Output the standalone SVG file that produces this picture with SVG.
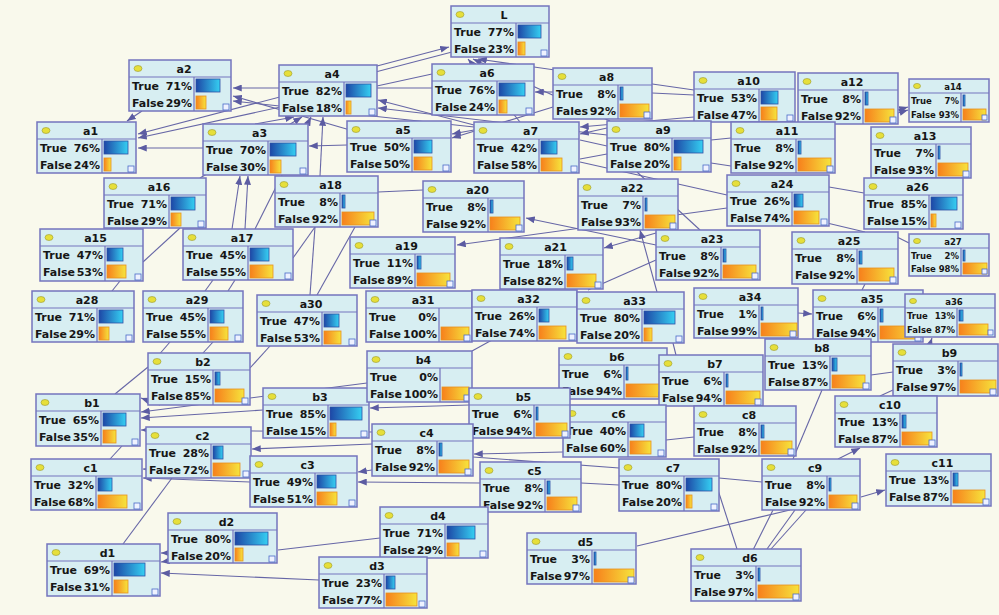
<svg xmlns="http://www.w3.org/2000/svg" width="999" height="615" viewBox="0 0 999 615">
<defs>
<linearGradient id="gb" x1="0" y1="0" x2="1" y2="0"><stop offset="0" stop-color="#1d47a6"/><stop offset="1" stop-color="#35cff2"/></linearGradient>
<linearGradient id="go" x1="0" y1="0" x2="1" y2="0"><stop offset="0" stop-color="#f7801c"/><stop offset="1" stop-color="#f6e43c"/></linearGradient>
<marker id="ar" viewBox="0 0 10 8" refX="10" refY="4" markerWidth="9" markerHeight="7" orient="auto" markerUnits="userSpaceOnUse"><path d="M0,0L10,4L0,8z" fill="#5c5ca2"/></marker>
<style>
.n{fill:#d7eef2;stroke:#7474bd;stroke-width:1.5}
.d{stroke:#7474bd;stroke-width:1.2;fill:none}
.e{fill:#e6df3a;stroke:#9a9a30;stroke-width:.6}
text{font-family:"DejaVu Sans",Verdana,sans-serif;font-weight:bold;font-size:11px;fill:#161616}
.t{text-anchor:middle}
.p{text-anchor:end}
.sm text{font-size:8.5px}
.bt{fill:url(#gb);stroke:#2f4fa6;stroke-width:.8}
.bf{fill:url(#go);stroke:#e8901e;stroke-width:.8}
.ck{fill:#eef2ff;stroke:#4a6ac8;stroke-width:.8}
#links path{stroke:#6666a6;stroke-width:1.1;fill:none}
#links .a{marker-end:url(#ar)}
</style>
</defs>
<rect width="999" height="615" fill="#f9f9ec"/>
<g id="links">
<path class="a" d="M377,66L449,47"/>
<path class="a" d="M520,122L468,59"/>
<path class="a" d="M610,121L473,59"/>
<path class="a" d="M694,90L478,59"/>
<path class="a" d="M452,52L138,134"/>
<path class="a" d="M432,74L138,138"/>
<path class="a" d="M432,88L233,88"/>
<path class="a" d="M350,130L233,96"/>
<path class="a" d="M474,127L233,101"/>
<path class="a" d="M142,111L127,121"/>
<path class="a" d="M203,148L138,148"/>
<path class="a" d="M347,145L309,146"/>
<path class="a" d="M474,130L452,134"/>
<path class="a" d="M553,107L452,138"/>
<path class="a" d="M474,125L378,100"/>
<path class="a" d="M607,135L378,108"/>
<path class="a" d="M255,124L294,117"/>
<path class="a" d="M200,178L302,117"/>
<path class="a" d="M320,176L323,117"/>
<path class="a" d="M255,229L311,117"/>
<path class="a" d="M553,92L535,92"/>
<path d="M652,93L694,95"/>
<path class="a" d="M694,117L580,127"/>
<path class="a" d="M607,128L580,134"/>
<path d="M580,140L607,146"/>
<path d="M580,159L607,154"/>
<path d="M580,162L727,195"/>
<path d="M637,172L700,230"/>
<path d="M711,140L731,138"/>
<path d="M711,163L731,166"/>
<path class="a" d="M898,110L908,107"/>
<path class="a" d="M898,113L908,110"/>
<path d="M829,187L864,193"/>
<path d="M827,223L865,232"/>
<path d="M897,237L909,243"/>
<path d="M180,228L143,262"/>
<path d="M120,281L112,291"/>
<path d="M213,280L205,291"/>
<path d="M235,280L228,291"/>
<path class="a" d="M232,229L240,176"/>
<path class="a" d="M245,229L248,176"/>
<path d="M315,227L310,295"/>
<path d="M355,227L317,295"/>
<path d="M315,227L293,258"/>
<path d="M423,190L378,192"/>
<path class="a" d="M656,245L526,218"/>
<path class="a" d="M656,233L604,248"/>
<path class="a" d="M727,208L457,245"/>
<path class="a" d="M657,292L640,230"/>
<path d="M656,260L588,290"/>
<path d="M492,340L472,351"/>
<path d="M673,343L676,355"/>
<path d="M865,284L862,290"/>
<path class="a" d="M798,313L812,314"/>
<path class="a" d="M930,344L932,338"/>
<path d="M871,375L893,372"/>
<path d="M822,390L793,459"/>
<path d="M893,390L880,396"/>
<path class="a" d="M838,459L860,448"/>
<path class="a" d="M861,497L885,490"/>
<path d="M767,549L795,510"/>
<path d="M771,549L806,510"/>
<path d="M753,550L773,510"/>
<path d="M637,546L790,510"/>
<path d="M718,490L737,549"/>
<path d="M719,478L762,482"/>
<path d="M581,483L619,485"/>
<path d="M473,457L619,468"/>
<path d="M666,440L694,437"/>
<path class="a" d="M563,452L474,454"/>
<path class="a" d="M372,470L358,472"/>
<path class="a" d="M480,483L358,482"/>
<path class="a" d="M372,444L252,449"/>
<path class="a" d="M250,482L143,478"/>
<path class="a" d="M160,470L143,469"/>
<path d="M122,446L110,459"/>
<path d="M172,478L123,544"/>
<path class="a" d="M168,553L161,553"/>
<path class="a" d="M168,561L161,562"/>
<path class="a" d="M319,580L161,573"/>
<path d="M380,538L278,550"/>
<path d="M148,367L115,394"/>
<path class="a" d="M160,405L141,398"/>
<path class="a" d="M263,410L141,418"/>
<path class="a" d="M367,383L141,412"/>
<path class="a" d="M372,432L141,430"/>
<path class="a" d="M469,405L370,408"/>
<path d="M270,346L250,368"/>
<path d="M170,342L150,365"/>
<path d="M213,342L203,353"/>
</g>

<g id="L" transform="translate(451,6)"><rect class="n" width="98" height="51"/><path class="d" d="M0,17H98M65,17V51"/><ellipse class="e" cx="9" cy="8.5" rx="4" ry="3"/><text class="t" x="53" y="13">L</text><text x="3" y="30">True</text><text class="p" x="63" y="30">77%</text><text x="3" y="47">False</text><text class="p" x="63" y="47">23%</text><rect class="bt" x="67" y="19" width="23" height="13"/><rect class="bf" x="67" y="36" width="7" height="13"/><rect class="ck" x="90" y="44" width="6" height="6"/></g>
<g id="a2" transform="translate(129,60)"><rect class="n" width="102" height="51"/><path class="d" d="M0,17H102M65,17V51"/><ellipse class="e" cx="9" cy="8.5" rx="4" ry="3"/><text class="t" x="55" y="13">a2</text><text x="3" y="30">True</text><text class="p" x="63" y="30">71%</text><text x="3" y="47">False</text><text class="p" x="63" y="47">29%</text><rect class="bt" x="67" y="19" width="24" height="13"/><rect class="bf" x="67" y="36" width="10" height="13"/><rect class="ck" x="94" y="44" width="6" height="6"/></g>
<g id="a4" transform="translate(279,65)"><rect class="n" width="98" height="51"/><path class="d" d="M0,17H98M65,17V51"/><ellipse class="e" cx="9" cy="8.5" rx="4" ry="3"/><text class="t" x="53" y="13">a4</text><text x="3" y="30">True</text><text class="p" x="63" y="30">82%</text><text x="3" y="47">False</text><text class="p" x="63" y="47">18%</text><rect class="bt" x="67" y="19" width="25" height="13"/><rect class="bf" x="67" y="36" width="5" height="13"/><rect class="ck" x="90" y="44" width="6" height="6"/></g>
<g id="a6" transform="translate(432,64)"><rect class="n" width="102" height="51"/><path class="d" d="M0,17H102M65,17V51"/><ellipse class="e" cx="9" cy="8.5" rx="4" ry="3"/><text class="t" x="55" y="13">a6</text><text x="3" y="30">True</text><text class="p" x="63" y="30">76%</text><text x="3" y="47">False</text><text class="p" x="63" y="47">24%</text><rect class="bt" x="67" y="19" width="26" height="13"/><rect class="bf" x="67" y="36" width="8" height="13"/><rect class="ck" x="94" y="44" width="6" height="6"/></g>
<g id="a8" transform="translate(553,68)"><rect class="n" width="99" height="51"/><path class="d" d="M0,17H99M65,17V51"/><ellipse class="e" cx="9" cy="8.5" rx="4" ry="3"/><text class="t" x="53.5" y="13">a8</text><text x="3" y="30">True</text><text class="p" x="63" y="30">8%</text><text x="3" y="47">Fales</text><text class="p" x="63" y="47">92%</text><rect class="bt" x="67" y="19" width="3" height="13"/><rect class="bf" x="67" y="36" width="29" height="13"/><rect class="ck" x="91" y="44" width="6" height="6"/></g>
<g id="a10" transform="translate(694,72)"><rect class="n" width="101" height="50"/><path class="d" d="M0,17H101M65,17V50"/><ellipse class="e" cx="9" cy="8.5" rx="4" ry="3"/><text class="t" x="54.5" y="13">a10</text><text x="3" y="30">True</text><text class="p" x="63" y="30">53%</text><text x="3" y="47">False</text><text class="p" x="63" y="47">47%</text><rect class="bt" x="67" y="19" width="17" height="13"/><rect class="bf" x="67" y="35" width="16" height="13"/><rect class="ck" x="93" y="43" width="6" height="6"/></g>
<g id="a12" transform="translate(798,73)"><rect class="n" width="100" height="51"/><path class="d" d="M0,17H100M65,17V51"/><ellipse class="e" cx="9" cy="8.5" rx="4" ry="3"/><text class="t" x="54" y="13">a12</text><text x="3" y="30">True</text><text class="p" x="63" y="30">8%</text><text x="3" y="47">False</text><text class="p" x="63" y="47">92%</text><rect class="bt" x="67" y="19" width="3" height="13"/><rect class="bf" x="67" y="36" width="29" height="13"/><rect class="ck" x="92" y="44" width="6" height="6"/></g>
<g id="a14" class="sm" transform="translate(909,79)"><rect class="n" width="80" height="43"/><path class="d" d="M0,14H80M52,14V43"/><ellipse class="e" cx="8" cy="7" rx="3.5" ry="2.6"/><text class="t" x="44" y="11">a14</text><text x="2" y="25">True</text><text class="p" x="50" y="25">7%</text><text x="2" y="39">False</text><text class="p" x="50" y="39">93%</text><rect class="bt" x="54" y="16" width="2" height="11"/><rect class="bf" x="54" y="30" width="23" height="11"/><rect class="ck" x="73" y="36" width="5" height="5"/></g>
<g id="a1" transform="translate(37,122)"><rect class="n" width="99" height="51"/><path class="d" d="M0,17H99M65,17V51"/><ellipse class="e" cx="9" cy="8.5" rx="4" ry="3"/><text class="t" x="53.5" y="13">a1</text><text x="3" y="30">True</text><text class="p" x="63" y="30">76%</text><text x="3" y="47">False</text><text class="p" x="63" y="47">24%</text><rect class="bt" x="67" y="19" width="24" height="13"/><rect class="bf" x="67" y="36" width="7" height="13"/><rect class="ck" x="91" y="44" width="6" height="6"/></g>
<g id="a3" transform="translate(203,124)"><rect class="n" width="105" height="51"/><path class="d" d="M0,17H105M65,17V51"/><ellipse class="e" cx="9" cy="8.5" rx="4" ry="3"/><text class="t" x="56.5" y="13">a3</text><text x="3" y="30">True</text><text class="p" x="63" y="30">70%</text><text x="3" y="47">False</text><text class="p" x="63" y="47">30%</text><rect class="bt" x="67" y="19" width="26" height="13"/><rect class="bf" x="67" y="36" width="11" height="13"/><rect class="ck" x="97" y="44" width="6" height="6"/></g>
<g id="a5" transform="translate(347,121)"><rect class="n" width="104" height="51"/><path class="d" d="M0,17H104M65,17V51"/><ellipse class="e" cx="9" cy="8.5" rx="4" ry="3"/><text class="t" x="56" y="13">a5</text><text x="3" y="30">True</text><text class="p" x="63" y="30">50%</text><text x="3" y="47">False</text><text class="p" x="63" y="47">50%</text><rect class="bt" x="67" y="19" width="18" height="13"/><rect class="bf" x="67" y="36" width="18" height="13"/><rect class="ck" x="96" y="44" width="6" height="6"/></g>
<g id="a7" transform="translate(474,122)"><rect class="n" width="105" height="51"/><path class="d" d="M0,17H105M65,17V51"/><ellipse class="e" cx="9" cy="8.5" rx="4" ry="3"/><text class="t" x="56.5" y="13">a7</text><text x="3" y="30">True</text><text class="p" x="63" y="30">42%</text><text x="3" y="47">False</text><text class="p" x="63" y="47">58%</text><rect class="bt" x="67" y="19" width="16" height="13"/><rect class="bf" x="67" y="36" width="21" height="13"/><rect class="ck" x="97" y="44" width="6" height="6"/></g>
<g id="a9" transform="translate(607,121)"><rect class="n" width="104" height="51"/><path class="d" d="M0,17H104M65,17V51"/><ellipse class="e" cx="9" cy="8.5" rx="4" ry="3"/><text class="t" x="56" y="13">a9</text><text x="3" y="30">True</text><text class="p" x="63" y="30">80%</text><text x="3" y="47">False</text><text class="p" x="63" y="47">20%</text><rect class="bt" x="67" y="19" width="29" height="13"/><rect class="bf" x="67" y="36" width="7" height="13"/><rect class="ck" x="96" y="44" width="6" height="6"/></g>
<g id="a11" transform="translate(731,122)"><rect class="n" width="104" height="51"/><path class="d" d="M0,17H104M65,17V51"/><ellipse class="e" cx="9" cy="8.5" rx="4" ry="3"/><text class="t" x="56" y="13">a11</text><text x="3" y="30">True</text><text class="p" x="63" y="30">8%</text><text x="3" y="47">False</text><text class="p" x="63" y="47">92%</text><rect class="bt" x="67" y="19" width="3" height="13"/><rect class="bf" x="67" y="36" width="33" height="13"/><rect class="ck" x="96" y="44" width="6" height="6"/></g>
<g id="a13" transform="translate(871,127)"><rect class="n" width="100" height="51"/><path class="d" d="M0,17H100M65,17V51"/><ellipse class="e" cx="9" cy="8.5" rx="4" ry="3"/><text class="t" x="54" y="13">a13</text><text x="3" y="30">True</text><text class="p" x="63" y="30">7%</text><text x="3" y="47">False</text><text class="p" x="63" y="47">93%</text><rect class="bt" x="67" y="19" width="2" height="13"/><rect class="bf" x="67" y="36" width="30" height="13"/><rect class="ck" x="92" y="44" width="6" height="6"/></g>
<g id="a16" transform="translate(104,178)"><rect class="n" width="102" height="50"/><path class="d" d="M0,17H102M65,17V50"/><ellipse class="e" cx="9" cy="8.5" rx="4" ry="3"/><text class="t" x="55" y="13">a16</text><text x="3" y="30">True</text><text class="p" x="63" y="30">71%</text><text x="3" y="47">False</text><text class="p" x="63" y="47">29%</text><rect class="bt" x="67" y="19" width="24" height="13"/><rect class="bf" x="67" y="35" width="10" height="13"/><rect class="ck" x="94" y="43" width="6" height="6"/></g>
<g id="a18" transform="translate(275,176)"><rect class="n" width="103" height="51"/><path class="d" d="M0,17H103M65,17V51"/><ellipse class="e" cx="9" cy="8.5" rx="4" ry="3"/><text class="t" x="55.5" y="13">a18</text><text x="3" y="30">True</text><text class="p" x="63" y="30">8%</text><text x="3" y="47">False</text><text class="p" x="63" y="47">92%</text><rect class="bt" x="67" y="19" width="3" height="13"/><rect class="bf" x="67" y="36" width="32" height="13"/><rect class="ck" x="95" y="44" width="6" height="6"/></g>
<g id="a20" transform="translate(423,181)"><rect class="n" width="101" height="51"/><path class="d" d="M0,17H101M65,17V51"/><ellipse class="e" cx="9" cy="8.5" rx="4" ry="3"/><text class="t" x="54.5" y="13">a20</text><text x="3" y="30">True</text><text class="p" x="63" y="30">8%</text><text x="3" y="47">False</text><text class="p" x="63" y="47">92%</text><rect class="bt" x="67" y="19" width="3" height="13"/><rect class="bf" x="67" y="36" width="30" height="13"/><rect class="ck" x="93" y="44" width="6" height="6"/></g>
<g id="a22" transform="translate(578,179)"><rect class="n" width="100" height="51"/><path class="d" d="M0,17H100M65,17V51"/><ellipse class="e" cx="9" cy="8.5" rx="4" ry="3"/><text class="t" x="54" y="13">a22</text><text x="3" y="30">True</text><text class="p" x="63" y="30">7%</text><text x="3" y="47">False</text><text class="p" x="63" y="47">93%</text><rect class="bt" x="67" y="19" width="2" height="13"/><rect class="bf" x="67" y="36" width="30" height="13"/><rect class="ck" x="92" y="44" width="6" height="6"/></g>
<g id="a24" transform="translate(727,175)"><rect class="n" width="102" height="51"/><path class="d" d="M0,17H102M65,17V51"/><ellipse class="e" cx="9" cy="8.5" rx="4" ry="3"/><text class="t" x="55" y="13">a24</text><text x="3" y="30">True</text><text class="p" x="63" y="30">26%</text><text x="3" y="47">False</text><text class="p" x="63" y="47">74%</text><rect class="bt" x="67" y="19" width="9" height="13"/><rect class="bf" x="67" y="36" width="25" height="13"/><rect class="ck" x="94" y="44" width="6" height="6"/></g>
<g id="a26" transform="translate(864,178)"><rect class="n" width="99" height="51"/><path class="d" d="M0,17H99M65,17V51"/><ellipse class="e" cx="9" cy="8.5" rx="4" ry="3"/><text class="t" x="53.5" y="13">a26</text><text x="3" y="30">True</text><text class="p" x="63" y="30">85%</text><text x="3" y="47">False</text><text class="p" x="63" y="47">15%</text><rect class="bt" x="67" y="19" width="26" height="13"/><rect class="bf" x="67" y="36" width="5" height="13"/><rect class="ck" x="91" y="44" width="6" height="6"/></g>
<g id="a15" transform="translate(40,229)"><rect class="n" width="103" height="52"/><path class="d" d="M0,17H103M65,17V52"/><ellipse class="e" cx="9" cy="8.5" rx="4" ry="3"/><text class="t" x="55.5" y="13">a15</text><text x="3" y="30">True</text><text class="p" x="63" y="30">47%</text><text x="3" y="47">False</text><text class="p" x="63" y="47">53%</text><rect class="bt" x="67" y="19" width="16" height="13"/><rect class="bf" x="67" y="36" width="19" height="13"/><rect class="ck" x="95" y="45" width="6" height="6"/></g>
<g id="a17" transform="translate(183,229)"><rect class="n" width="110" height="51"/><path class="d" d="M0,17H110M65,17V51"/><ellipse class="e" cx="9" cy="8.5" rx="4" ry="3"/><text class="t" x="59" y="13">a17</text><text x="3" y="30">True</text><text class="p" x="63" y="30">45%</text><text x="3" y="47">False</text><text class="p" x="63" y="47">55%</text><rect class="bt" x="67" y="19" width="19" height="13"/><rect class="bf" x="67" y="36" width="23" height="13"/><rect class="ck" x="102" y="44" width="6" height="6"/></g>
<g id="a19" transform="translate(350,237)"><rect class="n" width="105" height="51"/><path class="d" d="M0,17H105M65,17V51"/><ellipse class="e" cx="9" cy="8.5" rx="4" ry="3"/><text class="t" x="56.5" y="13">a19</text><text x="3" y="30">True</text><text class="p" x="63" y="30">11%</text><text x="3" y="47">False</text><text class="p" x="63" y="47">89%</text><rect class="bt" x="67" y="19" width="4" height="13"/><rect class="bf" x="67" y="36" width="33" height="13"/><rect class="ck" x="97" y="44" width="6" height="6"/></g>
<g id="a21" transform="translate(500,238)"><rect class="n" width="103" height="51"/><path class="d" d="M0,17H103M65,17V51"/><ellipse class="e" cx="9" cy="8.5" rx="4" ry="3"/><text class="t" x="55.5" y="13">a21</text><text x="3" y="30">True</text><text class="p" x="63" y="30">18%</text><text x="3" y="47">False</text><text class="p" x="63" y="47">82%</text><rect class="bt" x="67" y="19" width="6" height="13"/><rect class="bf" x="67" y="36" width="29" height="13"/><rect class="ck" x="95" y="44" width="6" height="6"/></g>
<g id="a23" transform="translate(656,230)"><rect class="n" width="104" height="50"/><path class="d" d="M0,17H104M65,17V50"/><ellipse class="e" cx="9" cy="8.5" rx="4" ry="3"/><text class="t" x="56" y="13">a23</text><text x="3" y="30">True</text><text class="p" x="63" y="30">8%</text><text x="3" y="47">False</text><text class="p" x="63" y="47">92%</text><rect class="bt" x="67" y="19" width="3" height="13"/><rect class="bf" x="67" y="35" width="33" height="13"/><rect class="ck" x="96" y="43" width="6" height="6"/></g>
<g id="a25" transform="translate(792,232)"><rect class="n" width="106" height="52"/><path class="d" d="M0,17H106M65,17V52"/><ellipse class="e" cx="9" cy="8.5" rx="4" ry="3"/><text class="t" x="57" y="13">a25</text><text x="3" y="30">True</text><text class="p" x="63" y="30">8%</text><text x="3" y="47">False</text><text class="p" x="63" y="47">92%</text><rect class="bt" x="67" y="19" width="3" height="13"/><rect class="bf" x="67" y="36" width="35" height="13"/><rect class="ck" x="98" y="45" width="6" height="6"/></g>
<g id="a27" class="sm" transform="translate(909,234)"><rect class="n" width="80" height="42"/><path class="d" d="M0,14H80M52,14V42"/><ellipse class="e" cx="8" cy="7" rx="3.5" ry="2.6"/><text class="t" x="44" y="11">a27</text><text x="2" y="25">True</text><text class="p" x="50" y="25">2%</text><text x="2" y="38">False</text><text class="p" x="50" y="38">98%</text><rect class="bt" x="54" y="16" width="2" height="11"/><rect class="bf" x="54" y="29" width="24" height="11"/><rect class="ck" x="73" y="35" width="5" height="5"/></g>
<g id="a28" transform="translate(32,291)"><rect class="n" width="102" height="51"/><path class="d" d="M0,17H102M65,17V51"/><ellipse class="e" cx="9" cy="8.5" rx="4" ry="3"/><text class="t" x="55" y="13">a28</text><text x="3" y="30">True</text><text class="p" x="63" y="30">71%</text><text x="3" y="47">False</text><text class="p" x="63" y="47">29%</text><rect class="bt" x="67" y="19" width="24" height="13"/><rect class="bf" x="67" y="36" width="10" height="13"/><rect class="ck" x="94" y="44" width="6" height="6"/></g>
<g id="a29" transform="translate(143,291)"><rect class="n" width="100" height="51"/><path class="d" d="M0,17H100M65,17V51"/><ellipse class="e" cx="9" cy="8.5" rx="4" ry="3"/><text class="t" x="54" y="13">a29</text><text x="3" y="30">True</text><text class="p" x="63" y="30">45%</text><text x="3" y="47">False</text><text class="p" x="63" y="47">55%</text><rect class="bt" x="67" y="19" width="14" height="13"/><rect class="bf" x="67" y="36" width="18" height="13"/><rect class="ck" x="92" y="44" width="6" height="6"/></g>
<g id="a30" transform="translate(257,295)"><rect class="n" width="100" height="51"/><path class="d" d="M0,17H100M65,17V51"/><ellipse class="e" cx="9" cy="8.5" rx="4" ry="3"/><text class="t" x="54" y="13">a30</text><text x="3" y="30">True</text><text class="p" x="63" y="30">47%</text><text x="3" y="47">False</text><text class="p" x="63" y="47">53%</text><rect class="bt" x="67" y="19" width="15" height="13"/><rect class="bf" x="67" y="36" width="17" height="13"/><rect class="ck" x="92" y="44" width="6" height="6"/></g>
<g id="a31" transform="translate(366,291)"><rect class="n" width="106" height="51"/><path class="d" d="M0,17H106M73,17V51"/><ellipse class="e" cx="9" cy="8.5" rx="4" ry="3"/><text class="t" x="57" y="13">a31</text><text x="3" y="30">True</text><text class="p" x="71" y="30">0%</text><text x="3" y="47">False</text><text class="p" x="71" y="47">100%</text><rect class="bf" x="75" y="36" width="28" height="13"/><rect class="ck" x="98" y="44" width="6" height="6"/></g>
<g id="a32" transform="translate(472,290)"><rect class="n" width="105" height="51"/><path class="d" d="M0,17H105M65,17V51"/><ellipse class="e" cx="9" cy="8.5" rx="4" ry="3"/><text class="t" x="56.5" y="13">a32</text><text x="3" y="30">True</text><text class="p" x="63" y="30">26%</text><text x="3" y="47">False</text><text class="p" x="63" y="47">74%</text><rect class="bt" x="67" y="19" width="10" height="13"/><rect class="bf" x="67" y="36" width="27" height="13"/><rect class="ck" x="97" y="44" width="6" height="6"/></g>
<g id="a33" transform="translate(577,292)"><rect class="n" width="107" height="51"/><path class="d" d="M0,17H107M65,17V51"/><ellipse class="e" cx="9" cy="8.5" rx="4" ry="3"/><text class="t" x="57.5" y="13">a33</text><text x="3" y="30">True</text><text class="p" x="63" y="30">80%</text><text x="3" y="47">False</text><text class="p" x="63" y="47">20%</text><rect class="bt" x="67" y="19" width="31" height="13"/><rect class="bf" x="67" y="36" width="8" height="13"/><rect class="ck" x="99" y="44" width="6" height="6"/></g>
<g id="a34" transform="translate(694,288)"><rect class="n" width="104" height="50"/><path class="d" d="M0,17H104M65,17V50"/><ellipse class="e" cx="9" cy="8.5" rx="4" ry="3"/><text class="t" x="56" y="13">a34</text><text x="3" y="30">True</text><text class="p" x="63" y="30">1%</text><text x="3" y="47">False</text><text class="p" x="63" y="47">99%</text><rect class="bt" x="67" y="19" width="2" height="13"/><rect class="bf" x="67" y="35" width="36" height="13"/><rect class="ck" x="96" y="43" width="6" height="6"/></g>
<g id="a35" transform="translate(813,290)"><rect class="n" width="110" height="52"/><path class="d" d="M0,17H110M65,17V52"/><ellipse class="e" cx="9" cy="8.5" rx="4" ry="3"/><text class="t" x="59" y="13">a35</text><text x="3" y="30">True</text><text class="p" x="63" y="30">6%</text><text x="3" y="47">False</text><text class="p" x="63" y="47">94%</text><rect class="bt" x="67" y="19" width="3" height="13"/><rect class="bf" x="67" y="36" width="39" height="13"/><rect class="ck" x="102" y="45" width="6" height="6"/></g>
<g id="a36" class="sm" transform="translate(905,294)"><rect class="n" width="90" height="43"/><path class="d" d="M0,14H90M52,14V43"/><ellipse class="e" cx="8" cy="7" rx="3.5" ry="2.6"/><text class="t" x="49" y="11">a36</text><text x="2" y="25">True</text><text class="p" x="50" y="25">13%</text><text x="2" y="39">False</text><text class="p" x="50" y="39">87%</text><rect class="bt" x="54" y="16" width="4" height="11"/><rect class="bf" x="54" y="30" width="29" height="11"/><rect class="ck" x="83" y="36" width="5" height="5"/></g>
<g id="b1" transform="translate(36,394)"><rect class="n" width="104" height="52"/><path class="d" d="M0,17H104M65,17V52"/><ellipse class="e" cx="9" cy="8.5" rx="4" ry="3"/><text class="t" x="56" y="13">b1</text><text x="3" y="30">True</text><text class="p" x="63" y="30">65%</text><text x="3" y="47">False</text><text class="p" x="63" y="47">35%</text><rect class="bt" x="67" y="19" width="23" height="13"/><rect class="bf" x="67" y="36" width="13" height="13"/><rect class="ck" x="96" y="45" width="6" height="6"/></g>
<g id="b2" transform="translate(148,353)"><rect class="n" width="102" height="52"/><path class="d" d="M0,17H102M65,17V52"/><ellipse class="e" cx="9" cy="8.5" rx="4" ry="3"/><text class="t" x="55" y="13">b2</text><text x="3" y="30">True</text><text class="p" x="63" y="30">15%</text><text x="3" y="47">False</text><text class="p" x="63" y="47">85%</text><rect class="bt" x="67" y="19" width="5" height="13"/><rect class="bf" x="67" y="36" width="29" height="13"/><rect class="ck" x="94" y="45" width="6" height="6"/></g>
<g id="b3" transform="translate(263,388)"><rect class="n" width="106" height="50"/><path class="d" d="M0,17H106M65,17V50"/><ellipse class="e" cx="9" cy="8.5" rx="4" ry="3"/><text class="t" x="57" y="13">b3</text><text x="3" y="30">True</text><text class="p" x="63" y="30">85%</text><text x="3" y="47">False</text><text class="p" x="63" y="47">15%</text><rect class="bt" x="67" y="19" width="32" height="13"/><rect class="bf" x="67" y="35" width="6" height="13"/><rect class="ck" x="98" y="43" width="6" height="6"/></g>
<g id="b4" transform="translate(367,351)"><rect class="n" width="105" height="51"/><path class="d" d="M0,17H105M73,17V51"/><ellipse class="e" cx="9" cy="8.5" rx="4" ry="3"/><text class="t" x="56.5" y="13">b4</text><text x="3" y="30">True</text><text class="p" x="71" y="30">0%</text><text x="3" y="47">False</text><text class="p" x="71" y="47">100%</text><rect class="bf" x="75" y="36" width="27" height="13"/><rect class="ck" x="97" y="44" width="6" height="6"/></g>
<g id="b6" transform="translate(559,348)"><rect class="n" width="108" height="51"/><path class="d" d="M0,17H108M65,17V51"/><ellipse class="e" cx="9" cy="8.5" rx="4" ry="3"/><text class="t" x="58" y="13">b6</text><text x="3" y="30">True</text><text class="p" x="63" y="30">6%</text><text x="3" y="47">False</text><text class="p" x="63" y="47">94%</text><rect class="bt" x="67" y="19" width="2" height="13"/><rect class="bf" x="67" y="36" width="38" height="13"/><rect class="ck" x="100" y="44" width="6" height="6"/></g>
<g id="b7" transform="translate(659,355)"><rect class="n" width="104" height="51"/><path class="d" d="M0,17H104M65,17V51"/><ellipse class="e" cx="9" cy="8.5" rx="4" ry="3"/><text class="t" x="56" y="13">b7</text><text x="3" y="30">True</text><text class="p" x="63" y="30">6%</text><text x="3" y="47">False</text><text class="p" x="63" y="47">94%</text><rect class="bt" x="67" y="19" width="2" height="13"/><rect class="bf" x="67" y="36" width="34" height="13"/><rect class="ck" x="96" y="44" width="6" height="6"/></g>
<g id="b8" transform="translate(765,339)"><rect class="n" width="106" height="51"/><path class="d" d="M0,17H106M65,17V51"/><ellipse class="e" cx="9" cy="8.5" rx="4" ry="3"/><text class="t" x="57" y="13">b8</text><text x="3" y="30">True</text><text class="p" x="63" y="30">13%</text><text x="3" y="47">False</text><text class="p" x="63" y="47">87%</text><rect class="bt" x="67" y="19" width="5" height="13"/><rect class="bf" x="67" y="36" width="33" height="13"/><rect class="ck" x="98" y="44" width="6" height="6"/></g>
<g id="b9" transform="translate(893,344)"><rect class="n" width="105" height="52"/><path class="d" d="M0,17H105M65,17V52"/><ellipse class="e" cx="9" cy="8.5" rx="4" ry="3"/><text class="t" x="56.5" y="13">b9</text><text x="3" y="30">True</text><text class="p" x="63" y="30">3%</text><text x="3" y="47">False</text><text class="p" x="63" y="47">97%</text><rect class="bt" x="67" y="19" width="2" height="13"/><rect class="bf" x="67" y="36" width="36" height="13"/><rect class="ck" x="97" y="45" width="6" height="6"/></g>
<g id="c6" transform="translate(563,405)"><rect class="n" width="103" height="52"/><path class="d" d="M0,17H103M65,17V52"/><ellipse class="e" cx="9" cy="8.5" rx="4" ry="3"/><text class="t" x="55.5" y="13">c6</text><text x="3" y="30">True</text><text class="p" x="63" y="30">40%</text><text x="3" y="47">False</text><text class="p" x="63" y="47">60%</text><rect class="bt" x="67" y="19" width="14" height="13"/><rect class="bf" x="67" y="36" width="21" height="13"/><rect class="ck" x="95" y="45" width="6" height="6"/></g>
<g id="b5" transform="translate(469,388)"><rect class="n" width="101" height="50"/><path class="d" d="M0,17H101M65,17V50"/><ellipse class="e" cx="9" cy="8.5" rx="4" ry="3"/><text class="t" x="54.5" y="13">b5</text><text x="3" y="30">True</text><text class="p" x="63" y="30">6%</text><text x="3" y="47">False</text><text class="p" x="63" y="47">94%</text><rect class="bt" x="67" y="19" width="2" height="13"/><rect class="bf" x="67" y="35" width="31" height="13"/><rect class="ck" x="93" y="43" width="6" height="6"/></g>
<g id="c1" transform="translate(31,459)"><rect class="n" width="111" height="51"/><path class="d" d="M0,17H111M65,17V51"/><ellipse class="e" cx="9" cy="8.5" rx="4" ry="3"/><text class="t" x="59.5" y="13">c1</text><text x="3" y="30">True</text><text class="p" x="63" y="30">32%</text><text x="3" y="47">False</text><text class="p" x="63" y="47">68%</text><rect class="bt" x="67" y="19" width="14" height="13"/><rect class="bf" x="67" y="36" width="29" height="13"/><rect class="ck" x="103" y="44" width="6" height="6"/></g>
<g id="c2" transform="translate(146,427)"><rect class="n" width="105" height="51"/><path class="d" d="M0,17H105M65,17V51"/><ellipse class="e" cx="9" cy="8.5" rx="4" ry="3"/><text class="t" x="56.5" y="13">c2</text><text x="3" y="30">True</text><text class="p" x="63" y="30">28%</text><text x="3" y="47">False</text><text class="p" x="63" y="47">72%</text><rect class="bt" x="67" y="19" width="10" height="13"/><rect class="bf" x="67" y="36" width="27" height="13"/><rect class="ck" x="97" y="44" width="6" height="6"/></g>
<g id="c3" transform="translate(250,456)"><rect class="n" width="107" height="51"/><path class="d" d="M0,17H107M65,17V51"/><ellipse class="e" cx="9" cy="8.5" rx="4" ry="3"/><text class="t" x="57.5" y="13">c3</text><text x="3" y="30">True</text><text class="p" x="63" y="30">49%</text><text x="3" y="47">False</text><text class="p" x="63" y="47">51%</text><rect class="bt" x="67" y="19" width="19" height="13"/><rect class="bf" x="67" y="36" width="20" height="13"/><rect class="ck" x="99" y="44" width="6" height="6"/></g>
<g id="c4" transform="translate(372,424)"><rect class="n" width="101" height="52"/><path class="d" d="M0,17H101M65,17V52"/><ellipse class="e" cx="9" cy="8.5" rx="4" ry="3"/><text class="t" x="54.5" y="13">c4</text><text x="3" y="30">True</text><text class="p" x="63" y="30">8%</text><text x="3" y="47">False</text><text class="p" x="63" y="47">92%</text><rect class="bt" x="67" y="19" width="3" height="13"/><rect class="bf" x="67" y="36" width="30" height="13"/><rect class="ck" x="93" y="45" width="6" height="6"/></g>
<g id="c5" transform="translate(480,462)"><rect class="n" width="101" height="50"/><path class="d" d="M0,17H101M65,17V50"/><ellipse class="e" cx="9" cy="8.5" rx="4" ry="3"/><text class="t" x="54.5" y="13">c5</text><text x="3" y="30">True</text><text class="p" x="63" y="30">8%</text><text x="3" y="47">False</text><text class="p" x="63" y="47">92%</text><rect class="bt" x="67" y="19" width="3" height="13"/><rect class="bf" x="67" y="35" width="30" height="13"/><rect class="ck" x="93" y="43" width="6" height="6"/></g>
<g id="c7" transform="translate(619,459)"><rect class="n" width="100" height="52"/><path class="d" d="M0,17H100M65,17V52"/><ellipse class="e" cx="9" cy="8.5" rx="4" ry="3"/><text class="t" x="54" y="13">c7</text><text x="3" y="30">True</text><text class="p" x="63" y="30">80%</text><text x="3" y="47">False</text><text class="p" x="63" y="47">20%</text><rect class="bt" x="67" y="19" width="26" height="13"/><rect class="bf" x="67" y="36" width="6" height="13"/><rect class="ck" x="92" y="45" width="6" height="6"/></g>
<g id="c8" transform="translate(694,406)"><rect class="n" width="102" height="50"/><path class="d" d="M0,17H102M65,17V50"/><ellipse class="e" cx="9" cy="8.5" rx="4" ry="3"/><text class="t" x="55" y="13">c8</text><text x="3" y="30">True</text><text class="p" x="63" y="30">8%</text><text x="3" y="47">False</text><text class="p" x="63" y="47">92%</text><rect class="bt" x="67" y="19" width="3" height="13"/><rect class="bf" x="67" y="35" width="31" height="13"/><rect class="ck" x="94" y="43" width="6" height="6"/></g>
<g id="c9" transform="translate(762,459)"><rect class="n" width="98" height="51"/><path class="d" d="M0,17H98M65,17V51"/><ellipse class="e" cx="9" cy="8.5" rx="4" ry="3"/><text class="t" x="53" y="13">c9</text><text x="3" y="30">True</text><text class="p" x="63" y="30">8%</text><text x="3" y="47">False</text><text class="p" x="63" y="47">92%</text><rect class="bt" x="67" y="19" width="2" height="13"/><rect class="bf" x="67" y="36" width="28" height="13"/><rect class="ck" x="90" y="44" width="6" height="6"/></g>
<g id="c10" transform="translate(835,396)"><rect class="n" width="102" height="51"/><path class="d" d="M0,17H102M65,17V51"/><ellipse class="e" cx="9" cy="8.5" rx="4" ry="3"/><text class="t" x="55" y="13">c10</text><text x="3" y="30">True</text><text class="p" x="63" y="30">13%</text><text x="3" y="47">False</text><text class="p" x="63" y="47">87%</text><rect class="bt" x="67" y="19" width="4" height="13"/><rect class="bf" x="67" y="36" width="30" height="13"/><rect class="ck" x="94" y="44" width="6" height="6"/></g>
<g id="c11" transform="translate(886,454)"><rect class="n" width="105" height="52"/><path class="d" d="M0,17H105M65,17V52"/><ellipse class="e" cx="9" cy="8.5" rx="4" ry="3"/><text class="t" x="56.5" y="13">c11</text><text x="3" y="30">True</text><text class="p" x="63" y="30">13%</text><text x="3" y="47">False</text><text class="p" x="63" y="47">87%</text><rect class="bt" x="67" y="19" width="5" height="13"/><rect class="bf" x="67" y="36" width="32" height="13"/><rect class="ck" x="97" y="45" width="6" height="6"/></g>
<g id="d1" transform="translate(47,544)"><rect class="n" width="113" height="52"/><path class="d" d="M0,17H113M65,17V52"/><ellipse class="e" cx="9" cy="8.5" rx="4" ry="3"/><text class="t" x="60.5" y="13">d1</text><text x="3" y="30">True</text><text class="p" x="63" y="30">69%</text><text x="3" y="47">False</text><text class="p" x="63" y="47">31%</text><rect class="bt" x="67" y="19" width="31" height="13"/><rect class="bf" x="67" y="36" width="14" height="13"/><rect class="ck" x="105" y="45" width="6" height="6"/></g>
<g id="d2" transform="translate(168,513)"><rect class="n" width="109" height="50"/><path class="d" d="M0,17H109M65,17V50"/><ellipse class="e" cx="9" cy="8.5" rx="4" ry="3"/><text class="t" x="58.5" y="13">d2</text><text x="3" y="30">True</text><text class="p" x="63" y="30">80%</text><text x="3" y="47">False</text><text class="p" x="63" y="47">20%</text><rect class="bt" x="67" y="19" width="33" height="13"/><rect class="bf" x="67" y="35" width="8" height="13"/><rect class="ck" x="101" y="43" width="6" height="6"/></g>
<g id="d4" transform="translate(380,507)"><rect class="n" width="108" height="51"/><path class="d" d="M0,17H108M65,17V51"/><ellipse class="e" cx="9" cy="8.5" rx="4" ry="3"/><text class="t" x="58" y="13">d4</text><text x="3" y="30">True</text><text class="p" x="63" y="30">71%</text><text x="3" y="47">False</text><text class="p" x="63" y="47">29%</text><rect class="bt" x="67" y="19" width="28" height="13"/><rect class="bf" x="67" y="36" width="12" height="13"/><rect class="ck" x="100" y="44" width="6" height="6"/></g>
<g id="d3" transform="translate(319,557)"><rect class="n" width="108" height="51"/><path class="d" d="M0,17H108M65,17V51"/><ellipse class="e" cx="9" cy="8.5" rx="4" ry="3"/><text class="t" x="58" y="13">d3</text><text x="3" y="30">True</text><text class="p" x="63" y="30">23%</text><text x="3" y="47">False</text><text class="p" x="63" y="47">77%</text><rect class="bt" x="67" y="19" width="9" height="13"/><rect class="bf" x="67" y="36" width="31" height="13"/><rect class="ck" x="100" y="44" width="6" height="6"/></g>
<g id="d5" transform="translate(527,533)"><rect class="n" width="109" height="51"/><path class="d" d="M0,17H109M65,17V51"/><ellipse class="e" cx="9" cy="8.5" rx="4" ry="3"/><text class="t" x="58.5" y="13">d5</text><text x="3" y="30">True</text><text class="p" x="63" y="30">3%</text><text x="3" y="47">False</text><text class="p" x="63" y="47">97%</text><rect class="bt" x="67" y="19" width="2" height="13"/><rect class="bf" x="67" y="36" width="40" height="13"/><rect class="ck" x="101" y="44" width="6" height="6"/></g>
<g id="d6" transform="translate(691,549)"><rect class="n" width="110" height="52"/><path class="d" d="M0,17H110M65,17V52"/><ellipse class="e" cx="9" cy="8.5" rx="4" ry="3"/><text class="t" x="59" y="13">d6</text><text x="3" y="30">True</text><text class="p" x="63" y="30">3%</text><text x="3" y="47">False</text><text class="p" x="63" y="47">97%</text><rect class="bt" x="67" y="19" width="2" height="13"/><rect class="bf" x="67" y="36" width="41" height="13"/><rect class="ck" x="102" y="45" width="6" height="6"/></g>
</svg>
